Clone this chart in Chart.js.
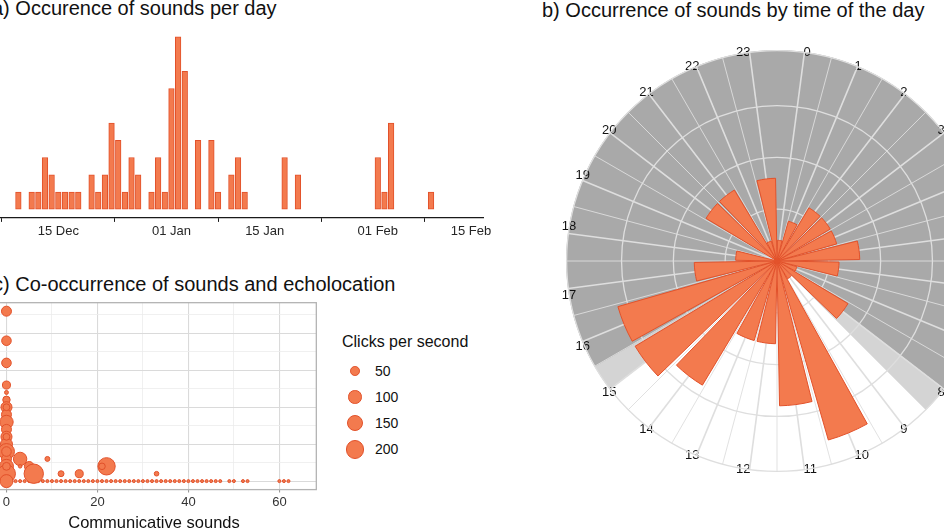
<!DOCTYPE html>
<html>
<head>
<meta charset="utf-8">
<title>Sounds</title>
<script src="https://cdn.jsdelivr.net/npm/chart.js@4.4.1/dist/chart.umd.min.js"></script>
<style>
  html, body { margin: 0; padding: 0; background: #fff; }
  body {
    position: relative; width: 944px; height: 531px; overflow: hidden;
    font-family: 'Liberation Sans', Arial, sans-serif; color: #111;
  }
  .title { position: absolute; font-size: 20px; line-height: 20px; white-space: nowrap; }
  canvas { position: absolute; }
  .legend-title { position: absolute; font-size: 16px; line-height: 16px; white-space: nowrap; }
  .legend-dot { position: absolute; box-sizing: border-box; border-radius: 50%; }
  .legend-text { position: absolute; font-size: 14px; line-height: 14px; }
</style>
</head>
<body>
<div class="title" style="left:-8px;top:-2px">a) Occurence of sounds per day</div>
<div class="title" style="left:542px;top:0px">b) Occurrence of sounds by time of the day</div>
<div class="title" style="left:-7px;top:274px">c) Co-occurrence of sounds and echolocation</div>

<canvas id="perDay" width="500" height="221" style="left:0;top:20px"></canvas>
<canvas id="hourBack" width="436" height="436" style="left:557px;top:44px"></canvas>
<canvas id="hourBars" width="420" height="420"></canvas>
<canvas id="coOccur" width="346" height="244" style="left:-19px;top:292px"></canvas>
<div id="clickLegend"></div>

<script>
// --- data ---------------------------------------------------------------

// a) sounds per day, day number counted from 1 Dec (= 0)
const dayNumbers   = [8, 10, 11, 12, 13, 14, 15, 16, 17, 19, 20, 21, 22, 23, 24, 25, 26,
                      28, 29, 30, 31, 32, 33, 35, 37, 38, 40, 41, 42, 48, 50, 62, 63, 64, 70];
const soundsPerDay = [1, 1, 1, 3, 2, 1, 1, 1, 1, 2, 1, 2, 5, 4, 1, 3, 2,
                      1, 3, 1, 7, 10, 8, 4, 4, 1, 2, 3, 1, 3, 2, 3, 1, 5, 1];
const dateTickDays   = [14, 31, 45, 62, 76];
const dateTickLabels = ['15 Dec', '01 Jan', '15 Jan', '01 Feb', '15 Feb'];

// b) sounds per hour of the day
const hourLabels    = ['0', '1', '2', '3', '4', '5', '6', '7', '8', '9', '10', '11',
                       '12', '13', '14', '15', '16', '17', '18', '19', '20', '21', '22', '23'];
const soundsPerHour = [1, 2, 3, 3, 3, 4, 3, 1, 4, 1, 9, 7, 4, 4, 7, 8, 8, 4, 2, 0, 4, 4, 1, 4];
const ringBreaks    = [2.5, 5, 7.5];
const daylightHours = [9, 15.5];
const twilightHours = [[8.5, 9], [15.5, 16]];

// c) co-occurrence of communicative sounds and echolocation
const quietX      = [1, 2, 3, 4, 5, 6, 7, 8, 9, 10, 11, 12, 13, 14, 15, 16, 17, 18, 19, 20,
                     21, 22, 23, 24, 25, 26, 27, 28, 29, 30, 31, 32, 33, 34, 35, 36, 37, 38,
                     39, 40, 41, 42, 43, 44, 45, 46, 47, 49, 50, 52, 53, 60, 61, 62];
const quietClicks = 6;
const commSounds  = [0, 0, 0, 0, 0, 0, 0, 0, 0, 0, 0, 0, 0, 0, 0, 0, 0,
                     0, 0, 0, 0, 3, 3, 5, 6, 9, 12, 16, 22, 21, 33];
const echoValues  = [46, 38, 32, 26, 24, 22, 20, 18, 16, 14, 12, 10, 8, 6, 4, 2, 0,
                     20, 12, 8, 4, 6, 4, 4, 2, 6, 2, 2, 4, 4, 2];
const clicksPerSec = [65, 60, 60, 42, 10, 36, 80, 65, 117, 65, 80, 94, 166, 65, 127, 210, 110,
                      30, 30, 60, 40, 117, 8, 60, 244, 16, 23, 42, 196, 28, 14];
const legendClicks = [50, 100, 150, 200];

// --- styling ------------------------------------------------------------

const FONT = "'Liberation Sans', Arial, sans-serif";
Chart.defaults.font.family = FONT;
Chart.defaults.color = '#222';

const BAR_FILL = '#F37A4E';
const BAR_EDGE = '#E2512A';
const NIGHT = '#A9A9A9';
const TWILIGHT = '#D4D4D4';
const DAY = '#FFFFFF';
const POLAR_GRID = '#DEDEDE';
const GRID_MAJOR = '#DADADA';
const GRID_MINOR = '#ECECEC';

const R_MAX = 10.15;   // outer edge of the polar panel
const BAR_GAP = 2;     // degrees between neighbouring hour bars

const quiet = { legend: { display: false }, tooltip: { enabled: false } };

// --- a) per day ---------------------------------------------------------

new Chart(document.getElementById('perDay'), {
  type: 'bar',
  data: {
    datasets: [{
      data: dayNumbers.map((d, i) => ({ x: d, y: soundsPerDay[i] })),
      backgroundColor: BAR_FILL,
      borderColor: BAR_EDGE,
      borderWidth: 1,
      borderSkipped: false,
      barThickness: 5.6,
    }],
  },
  options: {
    responsive: false, animation: false, events: [],
    layout: { padding: { left: 0, right: 16.7, top: 8.1, bottom: 0 } },
    plugins: quiet,
    scales: {
      x: {
        type: 'linear', min: 5.24, max: 77.85, offset: false,
        afterBuildTicks: s => { s.ticks = dateTickDays.map(v => ({ value: v })); },
        ticks: {
          callback: (v, i) => dateTickLabels[i],
          font: { size: 13 }, color: '#262626', padding: 1.75,
          maxRotation: 0, autoSkip: false,
        },
        grid: { drawOnChartArea: false, tickLength: 4, tickColor: '#1a1a1a', tickWidth: 1 },
        border: { color: '#1a1a1a', width: 1.2 },
      },
      y: { display: false, min: -0.5, max: 10.5 },
    },
  },
});

// --- b) by hour ---------------------------------------------------------

// half-hour sectors: night / twilight / daylight
function phaseColor(halfHour) {
  const t = halfHour / 2;
  if (t >= daylightHours[0] && t < daylightHours[1]) return DAY;
  if (twilightHours.some(([a, b]) => t >= a && t < b)) return TWILIGHT;
  return NIGHT;
}

// the back chart starts at 7.5 deg, so slot j covers half-hour j + 1
const backLabels = [];
const sectorColors = [];
for (let j = 0; j < 48; j++) {
  backLabels.push(j % 2 ? '' : hourLabels[j / 2]);
  sectorColors.push(phaseColor((j + 1) % 48));
}

const backChart = new Chart(document.getElementById('hourBack'), {
  type: 'polarArea',
  data: {
    labels: backLabels,
    datasets: [{
      data: backLabels.map(() => R_MAX),
      backgroundColor: sectorColors,
      borderColor: sectorColors,
      borderWidth: 1,
    }],
  },
  options: {
    responsive: false, animation: false, events: [],
    plugins: quiet,
    scales: {
      r: {
        min: 0, max: R_MAX, startAngle: 7.5,
        afterBuildTicks: s => { s.ticks = [0, ...ringBreaks, R_MAX].map(v => ({ value: v })); },
        ticks: { display: false, z: 1 },
        grid: { circular: true, color: POLAR_GRID, lineWidth: 1.3, z: 1 },
        angleLines: {
          display: true,
          color: c => (c.index === 47 ? 'transparent' : POLAR_GRID),
          lineWidth: c => (c.index % 2 ? 0.9 : 1.6),
        },
        pointLabels: { display: true, padding: -8, font: { size: 13 }, color: '#111' },
      },
    },
  },
});

// bars sit on their own canvas so the grid stays under them
const rBack = backChart.scales.r;
const barRadius = Math.round(rBack.drawingArea);
const barCanvas = document.getElementById('hourBars');
barCanvas.width = barCanvas.height = 2 * barRadius;
barCanvas.style.left = (557 + rBack.xCenter - barRadius) + 'px';
barCanvas.style.top = (44 + rBack.yCenter - barRadius) + 'px';

const barLabels = [], barValues = [], barFills = [], barEdges = [];
soundsPerHour.forEach((v, h) => {
  barLabels.push(hourLabels[h], '');
  barValues.push(v, 0);
  barFills.push(BAR_FILL, 'transparent');
  barEdges.push(BAR_EDGE, 'transparent');
});

new Chart(barCanvas, {
  type: 'polarArea',
  data: {
    labels: barLabels,
    datasets: [{
      data: barValues,
      backgroundColor: barFills,
      borderColor: barEdges,
      borderWidth: c => (c.dataIndex % 2 ? 0 : 1),
      angle: c => (c.dataIndex % 2 ? BAR_GAP : 15 - BAR_GAP),
    }],
  },
  options: {
    responsive: false, animation: false, events: [],
    plugins: quiet,
    scales: { r: { display: false, min: 0, max: R_MAX, startAngle: BAR_GAP / 2 } },
  },
});

// --- c) co-occurrence ---------------------------------------------------

const sizeFor = c => 0.62 * Math.sqrt(c);

const bubblePoints = quietX.map(x => ({ x, y: 0, r: sizeFor(quietClicks) }))
  .concat(commSounds.map((x, i) => ({ x, y: echoValues[i], r: sizeFor(clicksPerSec[i]) })));

const panelBorder = {
  id: 'panelBorder',
  beforeDatasetsDraw(chart) {
    const { ctx, chartArea: a } = chart;
    ctx.save();
    ctx.strokeStyle = '#B3B3B3';
    ctx.lineWidth = 1.3;
    ctx.strokeRect(a.left, a.top, a.right - a.left, a.bottom - a.top);
    ctx.restore();
  },
};

new Chart(document.getElementById('coOccur'), {
  type: 'bubble',
  data: {
    datasets: [{
      data: bubblePoints,
      backgroundColor: BAR_FILL,
      borderColor: BAR_EDGE,
      borderWidth: 1,
    }],
  },
  options: {
    responsive: false, animation: false, events: [],
    layout: { padding: 0 },
    plugins: quiet,
    scales: {
      x: {
        type: 'linear', min: -3.25, max: 68.12,
        ticks: {
          stepSize: 10, includeBounds: false, maxTicksLimit: 30, autoSkip: false, maxRotation: 0,
          callback: v => (v % 20 === 0 ? String(v) : ''),
          font: { size: 13 }, color: '#333', padding: 2,
        },
        grid: {
          color: c => (c.tick && c.tick.value % 20 === 0 ? GRID_MAJOR : GRID_MINOR),
          lineWidth: c => (c.tick && c.tick.value % 20 === 0 ? 1.1 : 0.8),
          tickLength: 3,
          tickColor: c => (c.tick && c.tick.value % 20 === 0 ? '#999' : 'transparent'),
        },
        border: { display: false },
        title: {
          display: true, text: 'Communicative sounds',
          font: { size: 16.5 }, color: '#111', padding: { top: 1, bottom: 3 },
        },
      },
      y: {
        type: 'linear', min: -2.3, max: 48.3,
        ticks: { display: false, stepSize: 5, includeBounds: false, maxTicksLimit: 30 },
        grid: {
          drawTicks: false,
          color: c => (c.tick && c.tick.value % 10 === 0 ? GRID_MAJOR : GRID_MINOR),
          lineWidth: c => (c.tick && c.tick.value % 10 === 0 ? 1.1 : 0.8),
        },
        border: { display: false },
      },
    },
  },
  plugins: [panelBorder],
});

// size legend
const legendBox = document.getElementById('clickLegend');
const legendTitle = document.createElement('div');
legendTitle.className = 'legend-title';
legendTitle.style.left = '342px';
legendTitle.style.top = '334px';
legendTitle.textContent = 'Clicks per second';
legendBox.appendChild(legendTitle);

legendClicks.forEach((c, i) => {
  const r = sizeFor(c);
  const cy = 370.7 + i * 26.2;
  const dot = document.createElement('div');
  dot.className = 'legend-dot';
  dot.style.width = dot.style.height = (2 * r + 1) + 'px';
  dot.style.left = (355 - r - 0.5) + 'px';
  dot.style.top = (cy - r - 0.5) + 'px';
  dot.style.background = BAR_FILL;
  dot.style.border = '1px solid ' + BAR_EDGE;
  legendBox.appendChild(dot);

  const txt = document.createElement('div');
  txt.className = 'legend-text';
  txt.style.left = '375px';
  txt.style.top = (cy - 7) + 'px';
  txt.textContent = String(c);
  legendBox.appendChild(txt);
});
</script>
</body>
</html>
